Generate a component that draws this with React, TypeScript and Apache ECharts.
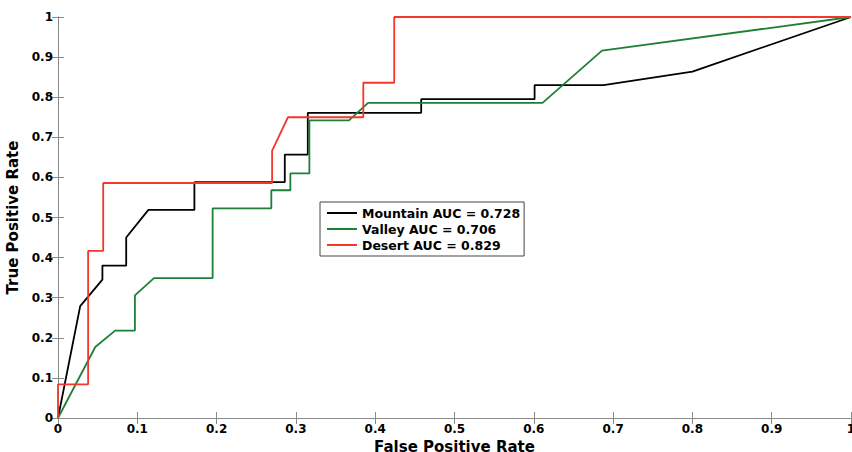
import React, { useEffect, useRef } from "react";
import * as echarts from "echarts";

const seriesNames = ["Mountain AUC = 0.728", "Valley AUC = 0.706", "Desert AUC = 0.829"];
const seriesColors = ["#000000", "#1f7f38", "#f2382c"];

const mountainPoints: [number, number][] = [
  [0, 0], [0.028, 0.279], [0.056, 0.345], [0.056, 0.38], [0.086, 0.38], [0.086, 0.45],
  [0.114, 0.519], [0.172, 0.519], [0.172, 0.588], [0.286, 0.588], [0.286, 0.657],
  [0.315, 0.657], [0.315, 0.761], [0.458, 0.761], [0.458, 0.795], [0.601, 0.795],
  [0.601, 0.83], [0.688, 0.83], [0.8, 0.864], [1, 1],
];
const valleyPoints: [number, number][] = [
  [0, 0], [0.047, 0.177], [0.072, 0.218], [0.097, 0.218], [0.097, 0.306], [0.121, 0.349],
  [0.195, 0.349], [0.195, 0.523], [0.269, 0.523], [0.269, 0.568], [0.293, 0.568],
  [0.293, 0.61], [0.317, 0.61], [0.317, 0.742], [0.367, 0.742], [0.391, 0.786],
  [0.611, 0.786], [0.686, 0.916], [1, 1],
];
const desertPoints: [number, number][] = [
  [0, 0], [0, 0.084], [0.038, 0.084], [0.038, 0.417], [0.057, 0.417], [0.057, 0.586],
  [0.27, 0.586], [0.27, 0.667], [0.29, 0.75], [0.385, 0.75], [0.385, 0.836],
  [0.424, 0.836], [0.424, 1], [1, 1],
];
const allPoints = [mountainPoints, valleyPoints, desertPoints];

const xTitle = "False Positive Rate";
const yTitle = "True Positive Rate";

const FONT = "DejaVu Sans";
const AXIS_GRAY = "#8a8a8a";

const App: React.FC = () => {
  const ref = useRef<HTMLDivElement>(null);
  useEffect(() => {
    if (!ref.current) return;
    const chart = echarts.init(ref.current, undefined, { renderer: "svg" });
    const fmt = (v: number) => (v === 0 ? "0" : v === 1 ? "1" : String(Math.round(v * 10) / 10));
    const baseAxis = {
      type: "value" as const,
      min: 0,
      max: 1,
      interval: 0.1,
      splitLine: { show: false },
      axisLine: { show: true, lineStyle: { color: AXIS_GRAY, width: 1 } },
      axisTick: { show: true, inside: true, length: 6, lineStyle: { color: AXIS_GRAY, width: 1 } },
    };
    chart.setOption({
      animation: false,
      backgroundColor: "#ffffff",
      grid: { left: 58, right: 1, top: 17, bottom: 34, containLabel: false, outerBoundsMode: "none" },
      legend: {
        data: seriesNames,
        orient: "vertical",
        left: 320,
        top: 202,
        icon: "rect",
        itemWidth: 30,
        itemHeight: 2,
        itemGap: 0,
        padding: [3, 4, 3, 7],
        borderColor: "#444444",
        borderWidth: 1,
        backgroundColor: "#ffffff",
        textStyle: { fontFamily: FONT, fontWeight: "bold", fontSize: 12.5, color: "#000", lineHeight: 16 },
      },
      xAxis: [
        {
          ...baseAxis,
          position: "bottom",
          name: xTitle,
          nameLocation: "middle",
          nameGap: 17,
          nameTextStyle: { fontFamily: FONT, fontWeight: "bold", fontSize: 15, lineHeight: 14, color: "#000" },
          axisLabel: { fontFamily: FONT, fontWeight: "bold", fontSize: 12, color: "#000", margin: 5, formatter: fmt },
        },
        { ...baseAxis, position: "top", axisLabel: { show: false } },
      ],
      yAxis: [
        {
          ...baseAxis,
          position: "left",
          name: yTitle,
          nameLocation: "middle",
          nameGap: 33,
          nameTextStyle: { fontFamily: FONT, fontWeight: "bold", fontSize: 15, color: "#000" },
          axisLabel: { fontFamily: FONT, fontWeight: "bold", fontSize: 12, color: "#000", margin: 5, formatter: fmt },
        },
        { ...baseAxis, position: "right", axisLabel: { show: false } },
      ],
      series: allPoints.map((pts, i) => ({
        name: seriesNames[i],
        type: "line",
        xAxisIndex: 0,
        yAxisIndex: 0,
        data: pts,
        showSymbol: false,
        symbol: "none",
        clip: false,
        itemStyle: { color: seriesColors[i] },
        lineStyle: { color: seriesColors[i], width: 1.8 },
      })),
    });
    return () => chart.dispose();
  }, []);
  return (
    <div
      ref={ref}
      style={{ position: "fixed", left: 0, top: 0, width: 852, height: 452, background: "#fff" }}
    />
  );
};

export default App;
